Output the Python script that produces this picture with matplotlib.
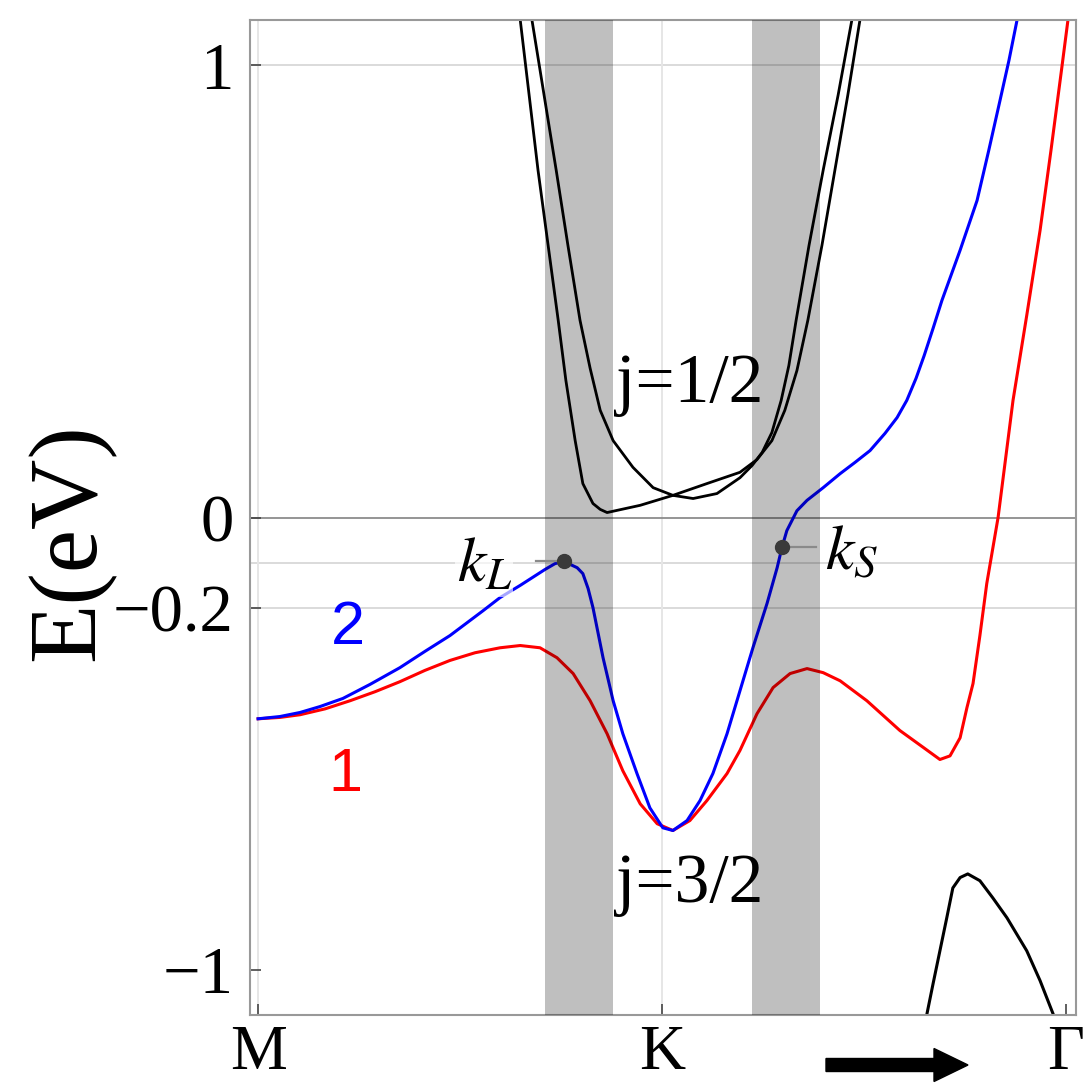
import matplotlib.pyplot as plt
import numpy as np
from matplotlib.patches import FancyArrow

plt.rcParams['font.family'] = ['Liberation Serif', 'DejaVu Serif']
plt.rcParams['mathtext.fontset'] = 'stix'

# positions le long du chemin M -> K -> Gamma (M=0, K=1, Gamma=2)
k_ticks = [0, 1, 2]
k_labels = ['M', 'K', 'Γ']
e_ticks = [1, 0, -0.2, -1]
e_labels = ['1', '0', '−0.2', '−1']
e_grid = [1, -0.1, -0.2]

# bande 1 (rouge)
k_band1 = [0.000, 0.054, 0.104, 0.166, 0.228, 0.290, 0.351, 0.413, 0.475, 0.537,
           0.599, 0.649, 0.698, 0.740, 0.780, 0.822, 0.864, 0.903, 0.946, 0.988,
           1.027, 1.069, 1.111, 1.161, 1.193, 1.235, 1.275, 1.317, 1.359, 1.399,
           1.441, 1.507, 1.589, 1.651, 1.688, 1.713, 1.738, 1.755, 1.770, 1.787,
           1.804, 1.832, 1.869, 1.903, 1.936, 1.963, 1.990, 2.005]
e_band1 = [-0.445, -0.442, -0.436, -0.423, -0.405, -0.385, -0.363, -0.338, -0.316, -0.299,
           -0.288, -0.283, -0.288, -0.310, -0.345, -0.405, -0.478, -0.560, -0.633, -0.677,
           -0.692, -0.670, -0.626, -0.566, -0.515, -0.434, -0.376, -0.345, -0.334, -0.343,
           -0.361, -0.405, -0.471, -0.511, -0.535, -0.527, -0.487, -0.420, -0.367, -0.261,
           -0.146, 0.000, 0.259, 0.447, 0.635, 0.812, 0.996, 1.100]

# bande 2 (bleue)
k_band2 = [0.000, 0.054, 0.104, 0.153, 0.210, 0.277, 0.351, 0.413, 0.475, 0.557,
           0.599, 0.649, 0.710, 0.735, 0.757, 0.790, 0.804, 0.817, 0.829, 0.854,
           0.879, 0.903, 0.938, 0.970, 1.002, 1.027, 1.062, 1.094, 1.126, 1.161,
           1.193, 1.225, 1.260, 1.285, 1.297, 1.309, 1.334, 1.359, 1.399, 1.441,
           1.478, 1.515, 1.552, 1.582, 1.606, 1.629, 1.649, 1.671, 1.693, 1.738,
           1.780, 1.809, 1.837, 1.859, 1.879]
e_band2 = [-0.445, -0.440, -0.431, -0.418, -0.400, -0.369, -0.332, -0.296, -0.261, -0.206,
           -0.177, -0.150, -0.115, -0.102, -0.097, -0.111, -0.124, -0.157, -0.199, -0.310,
           -0.405, -0.478, -0.566, -0.642, -0.686, -0.692, -0.670, -0.626, -0.566, -0.478,
           -0.383, -0.288, -0.190, -0.111, -0.066, -0.029, 0.015, 0.038, 0.066, 0.097,
           0.122, 0.148, 0.186, 0.221, 0.259, 0.308, 0.358, 0.418, 0.480, 0.591,
           0.701, 0.812, 0.923, 1.011, 1.100]

# bandes j=1/2 (noires)
k_half_a = [0.649, 0.671, 0.693, 0.718, 0.743, 0.762, 0.785, 0.804, 0.829, 0.847,
            0.864, 0.946, 1.027, 1.111, 1.193, 1.235, 1.272, 1.304, 1.334, 1.361,
            1.396, 1.428, 1.460, 1.490]
e_half_a = [1.100, 0.934, 0.768, 0.602, 0.436, 0.303, 0.170, 0.075, 0.031, 0.018,
            0.011, 0.027, 0.049, 0.075, 0.100, 0.128, 0.170, 0.237, 0.325, 0.436,
            0.602, 0.768, 0.934, 1.100]
k_half_b = [0.678, 0.708, 0.738, 0.767, 0.797, 0.822, 0.847, 0.879, 0.928, 0.978,
            1.027, 1.077, 1.136, 1.193, 1.223, 1.248, 1.272, 1.295, 1.314, 1.332,
            1.364, 1.399, 1.436, 1.470]
e_half_b = [1.100, 0.934, 0.768, 0.602, 0.436, 0.330, 0.237, 0.170, 0.111, 0.066,
            0.049, 0.042, 0.053, 0.088, 0.115, 0.144, 0.188, 0.259, 0.336, 0.436,
            0.602, 0.768, 0.934, 1.100]

# bande basse près de Gamma
k_low = [1.651, 1.656, 1.671, 1.688, 1.705, 1.720, 1.738, 1.757, 1.787, 1.819,
         1.854, 1.903, 1.936, 1.968, 1.975]
e_low = [-1.124, -1.097, -1.031, -0.958, -0.885, -0.819, -0.796, -0.788, -0.803, -0.841,
         -0.885, -0.958, -1.024, -1.097, -1.117]

# zones grisées et points k_L, k_S
shade_spans = [(0.710, 0.879), (1.223, 1.391)]
k_L, e_L = 0.757, -0.097
k_S, e_S = 1.297, -0.066

fig = plt.figure(figsize=(10.88, 10.87), dpi=100)
ax = fig.add_axes([0.2298, 0.0662, 0.7592, 0.9154])

for y in e_grid:
    ax.axhline(y, color='#dadada', lw=1.4, zorder=0)
for x in [0, 1]:
    ax.axvline(x, color='#e6e6e6', lw=1.4, zorder=0)
ax.axhline(0, color='#8c8c8c', lw=1.3, zorder=1)

ax.plot(k_band1, e_band1, color='red', lw=2.2, zorder=2)
ax.plot(k_band2, e_band2, color='blue', lw=2.2, zorder=2)
ax.plot(k_half_a, e_half_a, color='black', lw=2.0, zorder=2)
ax.plot(k_half_b, e_half_b, color='black', lw=2.0, zorder=2)
ax.plot(k_low, e_low, color='black', lw=2.2, zorder=2)

for a, b in shade_spans:
    ax.axvspan(a, b, color='black', alpha=0.25, lw=0, zorder=3)

# points marqués et petits traits
ax.plot([k_L - 0.07, k_L], [e_L, e_L], color='#8a8a8a', lw=1.6, zorder=4)
ax.plot([k_S, k_S + 0.085], [e_S, e_S], color='#8a8a8a', lw=1.6, zorder=4)
ax.plot([k_L, k_S], [e_L, e_S], 'o', color='#3a3a3a', ms=10, zorder=5)

ax.text(0.56, -0.108, '$k_L$', fontsize=46, ha='center', va='center', zorder=4,
        bbox=dict(facecolor='white', alpha=0.65, edgecolor='none', pad=1))
ax.text(1.47, -0.08, '$k_S$', fontsize=46, ha='center', va='center', zorder=4)

ax.text(0.222, -0.246, '2', color='blue', fontsize=44, family='Liberation Sans',
        ha='center', va='center', zorder=4)
ax.text(0.215, -0.571, '1', color='red', fontsize=44, family='Liberation Sans',
        ha='center', va='center', zorder=4)
ax.text(1.069, 0.292, 'j=1/2', fontsize=50, ha='center', va='center', zorder=4)
ax.text(1.069, -0.814, 'j=3/2', fontsize=50, ha='center', va='center', zorder=4)

ax.set_xlim(-0.02, 2.025)
ax.set_ylim(-1.1, 1.1)
ax.set_xticks(k_ticks)
ax.set_xticklabels(k_labels)
ax.set_yticks(e_ticks)
ax.set_yticklabels(e_labels)
ax.tick_params(direction='in', length=8, width=1.2, color='#444444', labelsize=48)
ax.tick_params(axis='x', pad=7, labelsize=46)
ax.tick_params(axis='y', pad=12)
for s in ax.spines.values():
    s.set_color('#999999')
    s.set_linewidth(1.5)

ax.set_ylabel('E(eV)', fontsize=70)
ax.yaxis.set_label_coords(-0.163, 0.475)

# flèche vers Gamma
fig.add_artist(FancyArrow(8.26, 0.22, 1.42, 0.0, width=0.13, head_width=0.33,
                          head_length=0.34, length_includes_head=True,
                          color='black', transform=fig.dpi_scale_trans))

fig.savefig('out.png', dpi=100)
